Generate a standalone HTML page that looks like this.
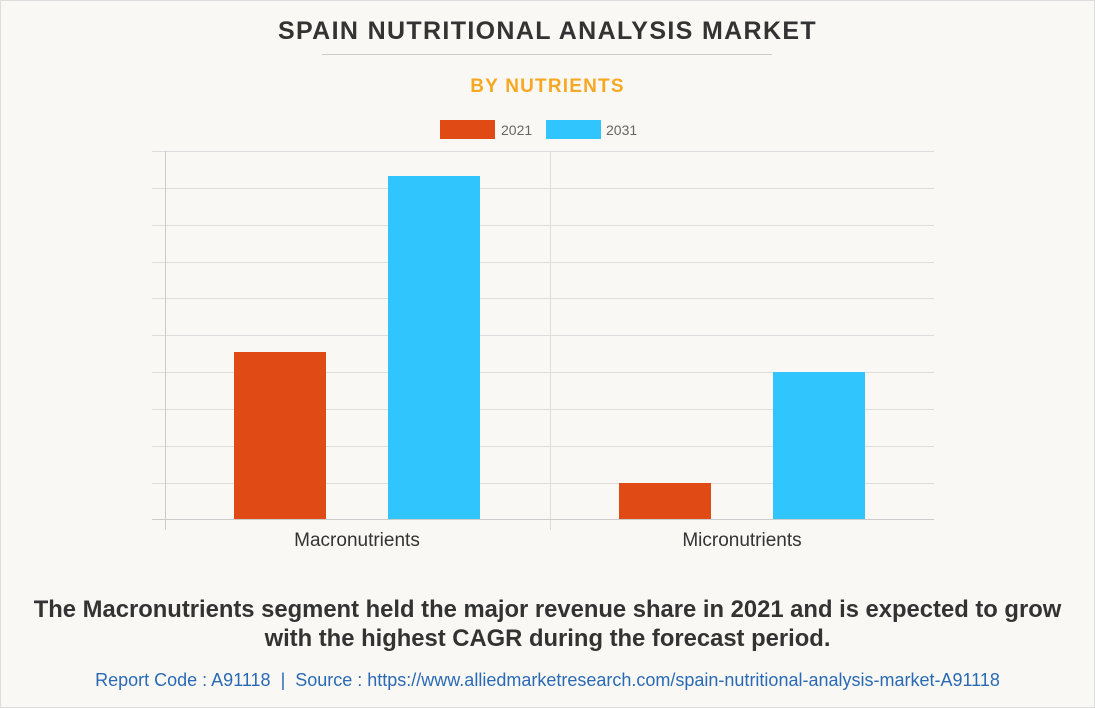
<!DOCTYPE html>
<html><head><style>
body{margin:0;width:1095px;height:708px;background:#fff;font-family:"Liberation Sans",sans-serif;}
.f{position:absolute;left:0;top:0;width:1093px;height:706px;border:1px solid #ddd;background:#f9f8f4;}
.t{position:absolute;width:1095px;text-align:center;white-space:nowrap;}
</style></head><body>
<div class="f"></div>
<div class="t" style="top:17px;font-size:25px;font-weight:bold;color:#333;letter-spacing:1.35px">SPAIN NUTRITIONAL ANALYSIS MARKET</div>
<div style="position:absolute;left:322px;top:54px;width:450px;height:1px;background:#ccc"></div>
<div class="t" style="top:76px;font-size:19px;font-weight:bold;color:#f7a823;letter-spacing:1.2px">BY NUTRIENTS</div>
<svg style="position:absolute;left:0;top:0" width="1095" height="708">
<rect x="440" y="120" width="55" height="19" fill="#e04a15"/>
<text x="501" y="135" font-size="14" fill="#666" font-family="Liberation Sans">2021</text>
<rect x="546" y="120" width="55" height="19" fill="#31c5fd"/>
<text x="606" y="135" font-size="14" fill="#666" font-family="Liberation Sans">2031</text>
<g stroke="#ddd" stroke-width="1">
<line x1="152" x2="934" y1="151.5" y2="151.5"/><line x1="152" x2="934" y1="188.5" y2="188.5"/>
<line x1="152" x2="934" y1="225.5" y2="225.5"/><line x1="152" x2="934" y1="262.5" y2="262.5"/>
<line x1="152" x2="934" y1="298.5" y2="298.5"/><line x1="152" x2="934" y1="335.5" y2="335.5"/>
<line x1="152" x2="934" y1="372.5" y2="372.5"/><line x1="152" x2="934" y1="409.5" y2="409.5"/>
<line x1="152" x2="934" y1="446.5" y2="446.5"/><line x1="152" x2="934" y1="483.5" y2="483.5"/>
<line x1="550.5" x2="550.5" y1="151" y2="530"/>
</g>
<line x1="152" x2="934" y1="519.5" y2="519.5" stroke="#ccc"/>
<line x1="165.5" x2="165.5" y1="151" y2="530" stroke="#ccc"/>
<rect x="234" y="352" width="92" height="167" fill="#e04a15"/>
<rect x="388" y="176" width="92" height="343" fill="#31c5fd"/>
<rect x="619" y="483" width="92" height="36" fill="#e04a15"/>
<rect x="773" y="372" width="92" height="147" fill="#31c5fd"/>
<text x="357" y="546" font-size="19" fill="#333" text-anchor="middle" font-family="Liberation Sans">Macronutrients</text>
<text x="742" y="546" font-size="19" fill="#333" text-anchor="middle" font-family="Liberation Sans">Micronutrients</text>
</svg>
<div class="t" style="top:595px;font-size:23.8px;font-weight:bold;color:#333;line-height:29px">The Macronutrients segment held the major revenue share in 2021 and is expected to grow<br>with the highest CAGR during the forecast period.</div>
<div class="t" style="top:670px;font-size:18px;color:#2a6ab5">Report Code : A91118 &nbsp;|&nbsp; Source : https://www.alliedmarketresearch.com/spain-nutritional-analysis-market-A91118</div>
</body></html>
